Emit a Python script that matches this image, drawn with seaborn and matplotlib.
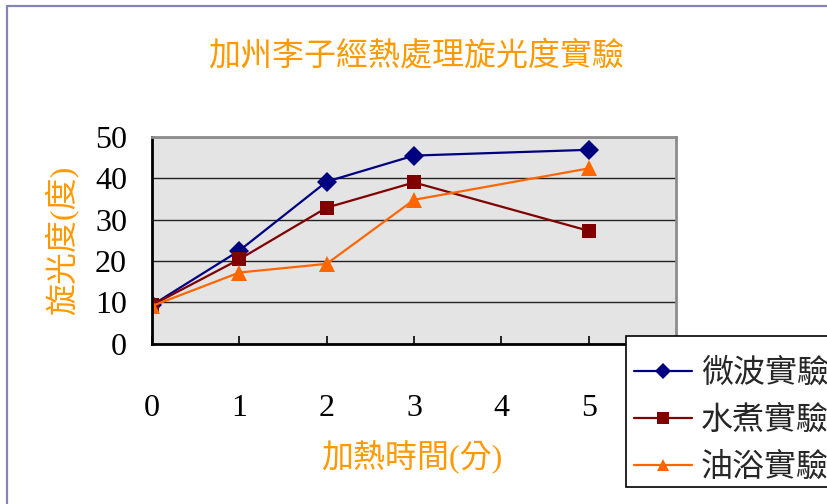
import matplotlib
matplotlib.use("Agg")
import matplotlib.pyplot as plt
from matplotlib.lines import Line2D
from matplotlib.patches import Rectangle
from matplotlib.colors import to_hex
import pandas as pd
import seaborn as sns

# Heating time (minutes) and optical rotation (degrees) for each treatment
minutes = [0, 1, 2, 3, 5]
microwave = [9.3, 22.5, 39.2, 45.5, 46.9]
boiling = [9.3, 20.4, 32.9, 39.0, 27.3]
oil_bath = [9.1, 17.2, 19.3, 34.8, 42.4]
series_names = ["微波實驗", "水煮實驗", "油浴實驗"]
x_ticks = [0, 1, 2, 3, 4, 5]
y_ticks = [0, 10, 20, 30, 40, 50]

title = "加州李子經熱處理旋光度實驗"
x_label = "加熱時間(分)"
y_label = "旋光度(度)"

colors = {"微波實驗": "#000080", "水煮實驗": "#800000", "油浴實驗": "#FF6600"}
markers = {"微波實驗": "D", "水煮實驗": "s", "油浴實驗": "^"}
marker_sizes = {"#000080": 10, "#800000": 9.5, "#FF6600": 11}
label_color = "#FF9900"

sns.set_theme(style="white")
plt.rcParams["font.family"] = ["Liberation Serif", "Noto Sans CJK TC", "DejaVu Sans"]

df = pd.DataFrame({
    "時間": minutes * 3,
    "旋光度": microwave + boiling + oil_bath,
    "實驗": [name for name in series_names for _ in minutes],
})

W, H = 827, 504
fig = plt.figure(figsize=(W / 100, H / 100), dpi=100)
fig.patch.set_facecolor("white")

left, right, top, bottom = 152, 676, 137, 343.6
ax = fig.add_axes([left / W, 1 - bottom / H, (right - left) / W, (bottom - top) / H])
ax.set_facecolor("#E4E4E4")

sns.lineplot(data=df, x="時間", y="旋光度", hue="實驗", style="實驗",
             hue_order=series_names, style_order=series_names,
             palette=colors, markers=markers, dashes=False,
             linewidth=1.6, markersize=10, markeredgewidth=0, ax=ax)

for line in ax.lines:
    c = to_hex(line.get_color()).upper()
    if c in marker_sizes:
        line.set_markersize(marker_sizes[c])

ax.set_xlim(0, 6)
ax.set_ylim(0, 50)
ax.set_xticks(x_ticks)
ax.set_xticklabels([str(t) for t in x_ticks])
ax.set_yticks(y_ticks)
ax.set_yticklabels([str(t) for t in y_ticks])
ax.set_xlabel("")
ax.set_ylabel("")

ax.yaxis.grid(True, color="#222222", linewidth=1.0)
ax.xaxis.grid(False)
ax.set_axisbelow(True)

ax.tick_params(axis="x", direction="in", length=6, width=1.2, color="black",
               pad=36, labelsize=23, labelcolor="black", bottom=True)
ax.tick_params(axis="y", length=0, pad=18, labelsize=23, labelcolor="black")

for side in ("left", "bottom"):
    ax.spines[side].set_color("black")
    ax.spines[side].set_linewidth(2.0)
for side in ("top", "right"):
    ax.spines[side].set_color("#8C8C8C")
    ax.spines[side].set_linewidth(2.0)

# Legend box at the lower right, running past the figure edge
box = Rectangle((626 / W, 1 - 487 / H), 230 / W, 151 / H,
                transform=fig.transFigure, facecolor="white",
                edgecolor="black", linewidth=1.2, zorder=3)
fig.add_artist(box)

handles, labels = ax.get_legend_handles_labels()
ax.get_legend().remove()
for h in handles:
    c = to_hex(h.get_color()).upper()
    if c in marker_sizes:
        h.set_markersize(marker_sizes[c] * 0.85)
fig.legend(handles, labels, loc="upper left",
           bbox_to_anchor=(634 / W, 1 - 359 / H), borderaxespad=0,
           frameon=False, fontsize=23, handlelength=1.8,
           handletextpad=0.3, labelspacing=0.52, borderpad=0)

# Title and axis titles
fig.text(416 / W, 1 - 56 / H, title, ha="center", va="center",
         fontsize=23, color=label_color, fontweight="light")
fig.text(412 / W, 1 - 457 / H, x_label, ha="center", va="center",
         fontsize=23, color=label_color, fontweight="light")
fig.text(62 / W, 1 - 240 / H, y_label, ha="center", va="center",
         rotation=90, fontsize=23, color=label_color, fontweight="light")

# Chart area border
border = "#8585B5"
fig.add_artist(Line2D([7 / W, 1], [1 - 6 / H, 1 - 6 / H], color=border, lw=1.6))
fig.add_artist(Line2D([7 / W, 7 / W], [0, 1 - 6 / H], color=border, lw=1.6))

fig.savefig("out.png", dpi=100)
